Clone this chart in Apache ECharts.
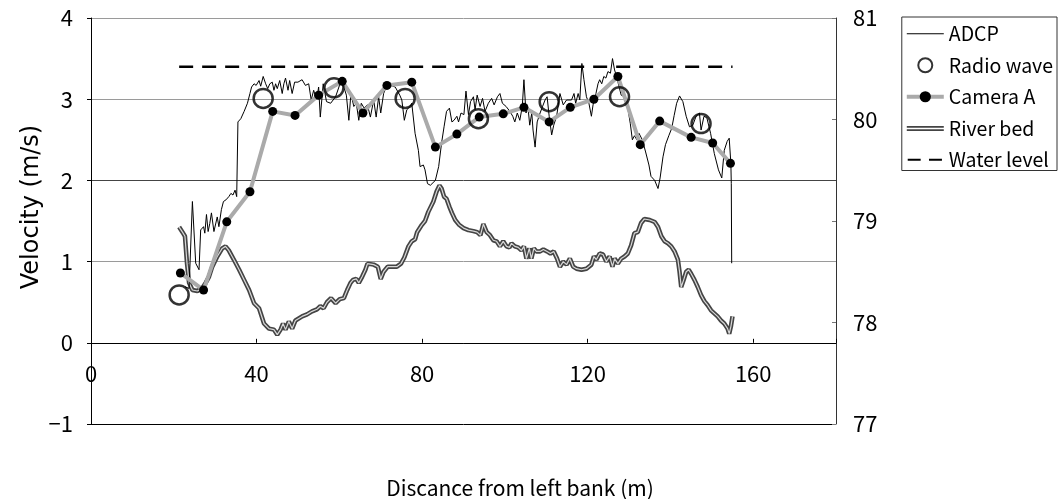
<!DOCTYPE html>
<html>
<head>
<meta charset="utf-8">
<script src="https://cdn.jsdelivr.net/npm/echarts@6/dist/echarts.min.js"></script>
<style>
html,body{margin:0;padding:0;background:#fff;}
#chart{width:1058px;height:499px;}
</style>
</head>
<body>
<div id="chart"></div>
<script>
// ---- Data ----
const xTicks = [0, 40, 80, 120, 160];
const leftTicks = [-1, 0, 1, 2, 3, 4];
const rightTicks = [77, 78, 79, 80, 81];

const adcpDist = [22.7,23.7,24.5,25.3,26.1,26.5,27.2,27.5,27.9,28.3,28.7,29.1,29.7,30.5,30.9,31.5,32.0,32.6,33.3,33.8,34.3,34.8,35.2,35.5,36.2,37.0,37.8,38.4,38.8,39.4,39.9,40.6,41.0,41.6,42.2,42.7,43.2,43.8,44.2,44.6,45.0,45.6,46.2,46.6,47.0,47.6,48.0,48.6,49.2,50.0,51.0,51.8,52.6,53.2,53.8,54.5,55.0,55.4,56.1,56.9,57.9,59.1,60.3,61.1,61.7,62.3,62.8,63.5,64.1,64.7,65.3,66.0,66.8,67.5,68.3,68.9,69.5,70.0,70.7,71.3,72.3,73.5,74.6,75.1,75.7,76.3,77.1,77.5,78.3,79.1,79.5,80.3,80.7,81.3,82.0,83.2,84.0,84.7,85.3,85.9,86.6,87.2,87.7,88.4,88.8,89.4,90.1,90.6,91.2,91.7,92.4,92.8,93.3,94.0,94.6,95.2,96.0,96.8,97.4,98.2,98.8,99.4,100.3,101.2,101.9,102.4,103.0,103.6,104.2,104.6,105.1,105.6,106.0,106.5,106.8,107.3,107.8,108.5,109.1,109.7,110.2,110.7,111.3,111.8,112.5,113.3,114.1,114.9,116.1,116.7,117.1,117.7,118.1,118.6,119.1,119.7,120.3,120.9,121.3,122.0,122.5,122.9,123.4,123.9,124.4,124.9,125.5,126.0,126.5,127.1,127.6,128.1,128.9,129.7,130.3,130.8,131.3,131.9,132.4,133.2,134.0,134.8,135.3,136.2,137.0,137.5,138.2,138.8,139.6,140.3,140.9,141.5,142.2,143.0,143.8,144.6,145.4,146.2,147.0,147.4,148.1,148.8,149.7,150.6,151.6,152.4,153.0,153.7,154.2,154.6,154.7,154.8];
const adcpVel = [0.69,0.67,1.74,0.98,0.90,1.39,1.43,1.35,1.58,1.37,1.47,1.60,1.37,1.55,1.43,1.64,1.74,1.76,1.80,1.84,1.82,1.88,1.80,2.72,2.76,2.85,2.95,3.07,3.15,3.19,3.17,3.23,3.16,3.28,3.19,3.13,3.19,3.21,3.11,3.19,3.13,3.23,3.07,3.19,3.26,3.11,3.23,3.07,3.21,3.21,3.24,3.17,3.19,2.99,3.11,2.99,3.15,2.78,3.19,2.97,2.95,3.03,3.21,3.15,3.05,2.74,3.07,2.91,2.95,2.74,2.95,2.89,2.93,2.78,2.99,2.78,3.03,2.83,3.07,3.15,3.17,3.15,3.05,2.99,2.74,2.87,2.91,2.95,2.58,2.37,2.17,2.19,2.13,1.96,1.94,2.00,2.17,2.46,2.66,2.85,2.89,2.72,2.74,2.79,2.72,2.83,2.81,3.10,2.81,2.97,3.03,2.87,3.05,2.91,3.01,2.85,2.95,3.01,2.93,3.03,3.07,2.95,2.91,2.85,2.79,2.72,2.83,2.74,2.91,3.24,2.83,2.89,2.68,2.83,2.62,2.41,2.72,2.83,2.91,2.99,3.03,2.79,2.56,2.68,2.79,3.07,2.93,2.99,2.99,3.07,2.95,3.07,2.99,3.44,3.24,3.03,2.95,2.79,2.93,3.07,3.19,3.24,3.19,3.28,3.26,3.34,3.32,3.50,3.36,3.26,3.15,3.05,3.03,2.89,2.70,2.50,2.55,2.50,2.58,2.50,2.35,2.19,2.05,2.00,1.90,2.03,2.29,2.44,2.55,2.64,2.80,2.95,3.04,2.97,2.79,2.66,2.68,2.79,2.83,2.62,2.79,2.77,2.58,2.33,2.13,2.03,2.37,2.48,2.52,2.21,1.96,0.98];

const radioDist = [21.3,41.6,58.7,75.9,93.6,110.7,127.7,147.4];
const radioVel  = [0.59,3.01,3.14,3.01,2.76,2.97,3.03,2.70];

const camDist = [21.6,27.2,32.8,38.4,43.9,49.3,55.0,60.7,65.7,71.5,77.5,83.2,88.4,93.8,99.6,104.6,110.7,115.8,121.5,127.3,132.7,137.4,145.0,150.2,154.5];
const camVel  = [0.86,0.65,1.49,1.86,2.85,2.80,3.05,3.22,2.83,3.17,3.21,2.41,2.57,2.78,2.82,2.90,2.72,2.90,3.00,3.28,2.44,2.73,2.53,2.46,2.21];

const bedDist = [21.3,22.1,22.7,23.2,23.7,24.5,25.7,26.9,27.7,28.5,29.3,30.5,31.7,32.5,33.3,34.5,35.8,37.0,38.2,39.4,40.6,41.8,43.0,44.2,45.0,45.8,46.4,47.0,47.8,48.6,49.4,51.0,52.2,53.4,54.6,55.4,56.2,57.0,58.0,59.1,60.1,61.1,61.9,62.7,63.3,64.1,64.7,65.5,66.3,66.8,68.3,69.3,70.0,70.7,71.7,72.7,73.9,74.9,75.7,76.7,77.5,78.3,78.8,79.9,80.7,81.5,82.7,83.5,84.2,84.7,85.3,85.9,86.6,87.2,88.0,89.0,90.0,91.2,92.4,93.3,94.1,94.8,95.6,96.4,97.2,98.0,98.8,99.6,100.4,101.1,101.6,102.4,103.2,104.0,104.6,105.2,105.9,106.4,107.0,107.6,108.5,109.3,110.2,111.0,111.8,112.6,113.3,114.1,114.9,115.7,116.5,117.3,118.5,119.7,120.9,121.5,122.1,122.9,123.7,124.5,125.3,126.0,126.5,127.3,128.1,128.9,129.7,130.5,131.3,132.1,132.9,133.7,135.0,136.2,137.0,137.8,138.6,139.4,140.2,141.0,141.8,142.2,142.6,143.2,143.8,144.4,145.0,145.8,146.6,147.4,148.2,149.0,149.8,150.6,151.4,152.2,153.0,153.8,154.2,154.6,155.0];
const bedElev = [78.94,78.89,78.85,78.58,78.39,78.32,78.31,78.34,78.39,78.45,78.55,78.65,78.73,78.75,78.71,78.62,78.52,78.42,78.32,78.19,78.14,77.99,77.94,77.93,77.88,77.93,77.99,77.93,78.01,77.94,78.02,78.06,78.08,78.11,78.13,78.16,78.14,78.20,78.24,78.19,78.23,78.24,78.32,78.39,78.42,78.43,78.39,78.45,78.52,78.58,78.57,78.55,78.43,78.50,78.55,78.55,78.55,78.58,78.64,78.75,78.80,78.82,78.89,78.96,79.00,79.09,79.19,79.29,79.35,79.32,79.24,79.22,79.14,79.08,79.01,78.96,78.93,78.91,78.90,78.89,78.86,78.97,78.89,78.86,78.81,78.80,78.75,78.80,78.75,78.74,78.78,78.75,78.74,78.71,78.75,78.63,78.73,78.63,78.73,78.70,78.70,78.72,78.70,78.68,78.70,78.63,78.55,78.60,78.57,78.63,78.55,78.53,78.52,78.53,78.57,78.65,78.62,78.68,78.67,78.60,78.65,78.55,78.63,78.58,78.63,78.65,78.68,78.76,78.88,78.89,78.98,79.02,79.01,78.99,78.94,78.85,78.80,78.78,78.75,78.70,78.62,78.50,78.35,78.42,78.50,78.52,78.48,78.42,78.35,78.27,78.21,78.17,78.12,78.09,78.06,78.02,77.99,77.94,77.89,77.96,78.06];

const waterDist = [21.3, 155.0];
const waterElev = [80.52, 80.52];

// ---- Build ----
const zip = (a, b) => a.map((v, i) => [v, b[i]]);
const jp = '"Noto Sans CJK JP", "Liberation Sans", sans-serif';

const chart = echarts.init(document.getElementById('chart'), null, {renderer: 'canvas'});
chart.setOption({
  animation: false,
  backgroundColor: '#fff',
  grid: {left: 91, right: 222, top: 18, bottom: 75, containLabel: false, outerBoundsMode: 'none'},
  xAxis: {
    type: 'value', min: 0, max: 180, interval: 40, position: 'bottom', offset: -81.2,
    axisLine: {show: true, onZero: false, lineStyle: {color: '#000', width: 1}},
    axisTick: {show: true, inside: true, length: 4, lineStyle: {color: '#000'}},
    axisLabel: {
      margin: 20, color: '#000', fontSize: 22, fontFamily: jp,
      formatter: v => xTicks.indexOf(v) >= 0 ? String(v) : ''
    },
    splitLine: {show: false}
  },
  yAxis: [
    {
      type: 'value', min: -1, max: 4, interval: 1, position: 'left',
      axisLine: {show: true, onZero: false, lineStyle: {color: '#000'}},
      axisTick: {show: true, length: 4, lineStyle: {color: '#000'}},
      axisLabel: {margin: 18, color: '#000', fontSize: 22, fontFamily: jp,
        formatter: v => leftTicks.indexOf(v) >= 0 ? (v < 0 ? '\u2212' + Math.abs(v) : String(v)) : ''},
      splitLine: {show: true, lineStyle: {color: ['#000', '#222', '#9a9a9a', '#444', '#9a9a9a', '#9a9a9a'], width: 1}}
    },
    {
      type: 'value', min: 77, max: 81, interval: 1, position: 'right',
      axisLine: {show: true, onZero: false, lineStyle: {color: '#333'}},
      axisTick: {show: true, inside: true, length: 4, lineStyle: {color: '#777'}},
      axisLabel: {margin: 17, color: '#000', fontSize: 22, fontFamily: jp,
        formatter: v => rightTicks.indexOf(v) >= 0 ? String(v) : ''},
      splitLine: {show: false}
    }
  ],
  legend: {
    orient: 'vertical', right: 1, top: 17,
    padding: [7, 4, 1, 3],
    itemWidth: 37, itemHeight: 14, itemGap: 12,
    borderColor: '#333', borderWidth: 1, backgroundColor: '#fff',
    textStyle: {color: '#000', fontSize: 19.5, fontFamily: jp},
    data: [
      {name: 'ADCP', icon: 'path://M0,0M40,14M0,6.5H40V7.5H0Z', itemStyle: {color: '#000'}},
      {name: 'Radio wave', icon: 'circle', itemStyle: {color: '#fff', borderColor: '#000', borderWidth: 2}},
      {name: 'Camera A', lineStyle: {color: '#aaaaaa', width: 4}},
      {name: 'River bed', icon: 'path://M0,0M40,14M0,4.5H40V6.5H0Z M0,8H40V10H0Z', itemStyle: {color: '#444'}},
      {name: 'Water level', icon: 'path://M0,0M40,14M1,5.8H15V8.2H1Z M24,5.8H38V8.2H24Z', itemStyle: {color: '#000'}}
    ]
  },
  graphic: [
    {
      type: 'text', x: 32, y: 207, rotation: Math.PI / 2,
      style: {text: 'Velocity (m/s)', fill: '#000', font: '24px "DejaVu Sans", sans-serif',
        align: 'center', verticalAlign: 'middle'}
    },
    {
      type: 'text', x: 520, y: 488,
      style: {text: 'Discance from left bank (m)', fill: '#000', font: '21px "Noto Sans CJK JP", sans-serif',
        align: 'center', verticalAlign: 'middle'}
    }
  ],
  series: [
    {
      name: 'River bed', type: 'line', yAxisIndex: 1, data: zip(bedDist, bedElev),
      symbol: 'none', lineStyle: {color: '#444', width: 4.5}, z: 2
    },
    {
      name: 'River bed inner', type: 'line', yAxisIndex: 1, data: zip(bedDist, bedElev),
      symbol: 'none', lineStyle: {color: '#d8d8d8', width: 1.2}, z: 3, legendHoverLink: false
    },
    {
      name: 'ADCP', type: 'line', yAxisIndex: 0, data: zip(adcpDist, adcpVel),
      symbol: 'none', lineStyle: {color: '#000', width: 1}, z: 4
    },
    {
      name: 'Camera A', type: 'line', yAxisIndex: 0, data: zip(camDist, camVel),
      symbol: 'circle', symbolSize: 9, showAllSymbol: true,
      itemStyle: {color: '#000'}, lineStyle: {color: '#aaaaaa', width: 4}, z: 5
    },
    {
      name: 'Radio wave', type: 'scatter', yAxisIndex: 0, data: zip(radioDist, radioVel),
      symbol: 'circle', symbolSize: 19,
      itemStyle: {color: 'rgba(255,255,255,0)', borderColor: '#000', borderWidth: 2.5}, z: 6
    },
    {
      name: 'Water level', type: 'line', yAxisIndex: 1, data: zip(waterDist, waterElev),
      symbol: 'none', lineStyle: {color: '#000', width: 2.5, type: [14, 9]}, z: 6
    }
  ]
});
</script>
</body>
</html>
